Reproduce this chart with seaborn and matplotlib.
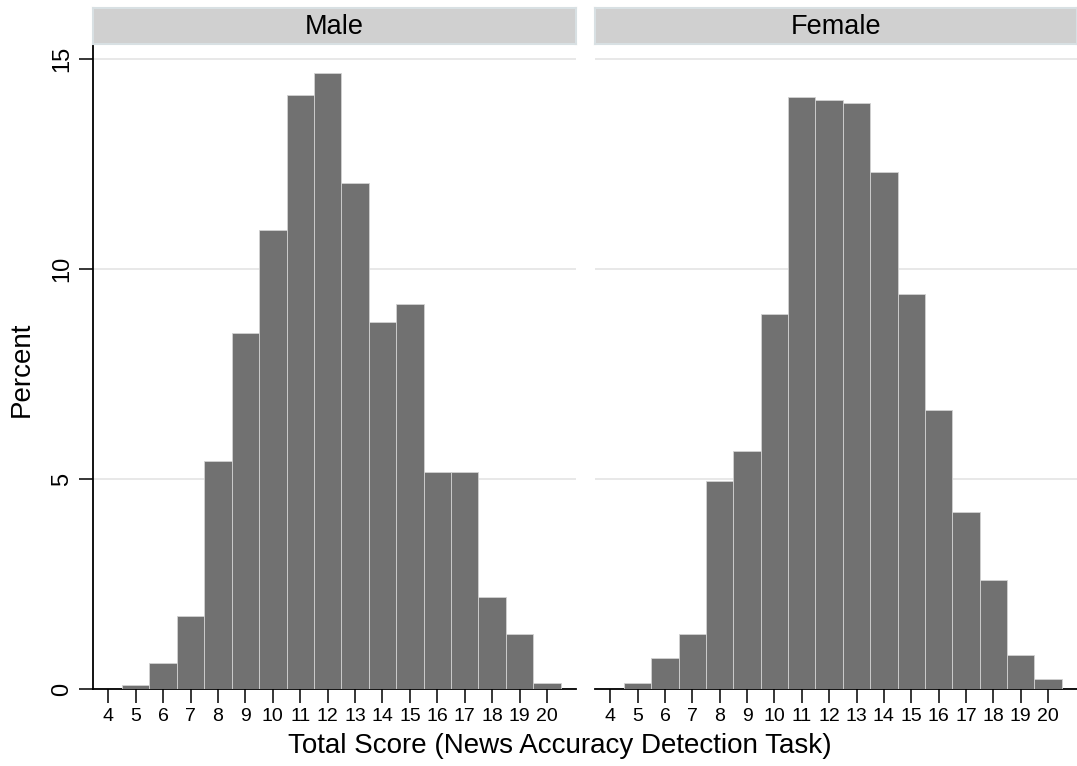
import numpy as np
import pandas as pd
import seaborn as sns
import matplotlib.pyplot as plt

# percent of respondents at each total score
scores = list(range(4, 21))
male_pct = [0, 0.09, 0.61, 1.74, 5.42, 8.48, 10.93, 14.15, 14.67, 12.05, 8.74, 9.17, 5.17, 5.17, 2.18, 1.30, 0.14]
female_pct = [0, 0.15, 0.73, 1.30, 4.95, 5.66, 8.93, 14.10, 14.02, 13.95, 12.32, 9.40, 6.64, 4.21, 2.59, 0.80, 0.23]
panels = ['Male', 'Female']
y_ticks = [0, 5, 10, 15]

df = pd.DataFrame({
    'score': scores * 2,
    'pct': male_pct + female_pct,
    'sex': ['Male'] * len(scores) + ['Female'] * len(scores),
})

sns.set_theme(style='white')
plt.rcParams['font.family'] = ['Liberation Sans', 'DejaVu Sans']
plt.rcParams['text.color'] = 'black'
plt.rcParams['xtick.color'] = 'black'
plt.rcParams['ytick.color'] = 'black'

W, H = 1077, 766
fig = plt.figure(figsize=(W / 100, H / 100), dpi=100)

# panel boxes in pixels: left, right
boxes = [(93, 576), (595, 1077)]
top_px, bot_px = 44, 689

for i, (name, (x0, x1)) in enumerate(zip(panels, boxes)):
    ax = fig.add_axes([x0 / W, 1 - bot_px / H, (x1 - x0) / W, (bot_px - top_px) / H])
    sub = df[df['sex'] == name]
    sns.histplot(data=sub, x='score', weights='pct', discrete=True,
                 color='#717171', edgecolor='#d2d2d2', linewidth=0.6,
                 alpha=1, ax=ax, zorder=3)
    ax.set_xlim(3.44, 21.06)
    ax.set_ylim(0, 15.36)
    ax.set_xticks(scores)
    ax.set_xticklabels([str(s) for s in scores], fontsize=14)
    ax.set_yticks(y_ticks)
    ax.yaxis.grid(True, color='#e8e8e8', linewidth=1.4, zorder=0)
    ax.set_axisbelow(True)
    ax.set_xlabel('')
    ax.set_ylabel('')
    for s in ['top', 'right']:
        ax.spines[s].set_visible(False)
    ax.spines['bottom'].set_color('black')
    ax.spines['bottom'].set_linewidth(1.3)
    ax.tick_params(axis='x', direction='out', length=10, width=1.1,
                   color='black', labelcolor='black', pad=4, bottom=True)
    if i == 0:
        ax.spines['left'].set_color('black')
        ax.spines['left'].set_linewidth(1.3)
        ax.tick_params(axis='y', direction='out', length=10, width=1.1,
                       color='black', labelcolor='black', pad=4, left=True)
        for lab in ax.get_yticklabels():
            lab.set_rotation(90)
            lab.set_va('center')
            lab.set_fontsize(17)
    else:
        ax.spines['left'].set_visible(False)
        ax.tick_params(axis='y', left=False, labelleft=False)

    # facet strip
    st = fig.add_axes([x0 / W, 1 - top_px / H, (x1 - x0) / W, 36 / H])
    st.set_facecolor('#d0d0d0')
    st.set_xticks([])
    st.set_yticks([])
    for s in st.spines.values():
        s.set_color('#d8e0e3')
        s.set_linewidth(1.5)
    st.text(0.5, 0.48, name, ha='center', va='center', fontsize=19.5,
            color='black', transform=st.transAxes)

fig.text(22 / W, 1 - 369 / H, 'Percent', rotation=90, ha='center',
         va='center', fontsize=20)
fig.text(560 / W, 1 - 746 / H, 'Total Score (News Accuracy Detection Task)',
         ha='center', va='center', fontsize=20)

fig.savefig('out.png', dpi=100, facecolor='white')
